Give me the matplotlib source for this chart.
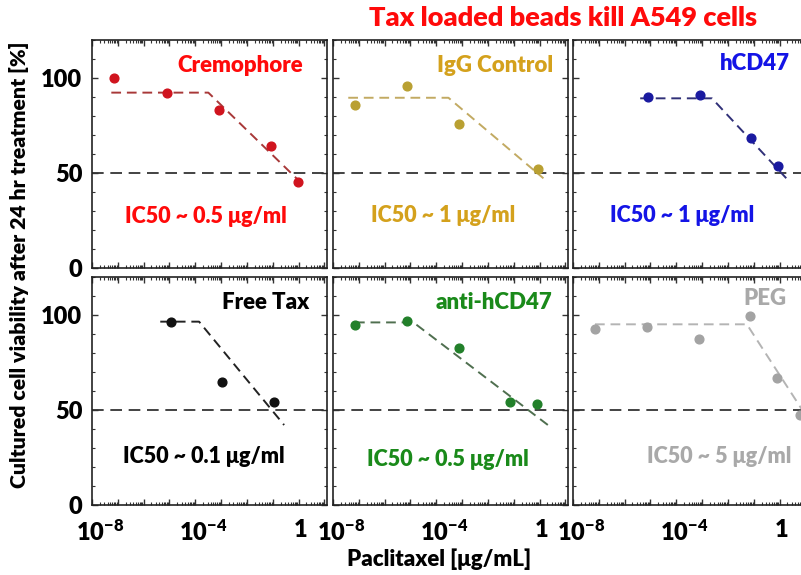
import matplotlib
matplotlib.use('Agg')
import matplotlib.pyplot as plt
import numpy as np
from matplotlib.ticker import FixedLocator, FuncFormatter, LogLocator, MultipleLocator, NullFormatter
from matplotlib.transforms import ScaledTranslation

WEIGHT = 'heavy'
plt.rcParams['font.family'] = ['Lato', 'DejaVu Sans']
plt.rcParams['font.weight'] = WEIGHT
plt.rcParams['mathtext.fontset'] = 'custom'
plt.rcParams['mathtext.rm'] = 'Lato:heavy'
plt.rcParams['mathtext.it'] = 'Lato:heavy'
plt.rcParams['mathtext.bf'] = 'Lato:heavy'

# data
names = ['Cremophore', 'IgG Control', 'hCD47', 'Free Tax', 'anti-hCD47', 'PEG']
ic50 = ['IC50 ~ 0.5 μg/ml', 'IC50 ~ 1 μg/ml', 'IC50 ~ 1 μg/ml',
        'IC50 ~ 0.1 μg/ml', 'IC50 ~ 0.5 μg/ml', 'IC50 ~ 5 μg/ml']

cremophore_x = [7.2e-8, 7.9e-6, 8.5e-4, 8.5e-2, 0.91]
cremophore_y = [99.8, 92.3, 83.2, 64.2, 45.1]
igg_x = [7.1e-8, 7.6e-6, 7.9e-4, 0.83]
igg_y = [85.8, 96.0, 75.8, 51.9]
hcd47_x = [7.9e-6, 8.3e-4, 7.9e-2, 0.83]
hcd47_y = [90.2, 91.1, 68.6, 53.8]
freetax_x = [1.1e-5, 1.1e-3, 0.11]
freetax_y = [96.5, 64.6, 54.4]
anti_x = [7.1e-8, 7.6e-6, 7.6e-4, 7.4e-2, 0.76]
anti_y = [94.7, 96.8, 82.5, 54.1, 53.2]
peg_x = [7.1e-8, 7.6e-6, 7.9e-4, 7.4e-2, 0.81, 6.3]
peg_y = [92.6, 93.8, 87.5, 99.6, 66.7, 47.4]

# fitted piecewise lines (plateau then decline)
cremophore_fit_x = [5.6e-8, 3.2e-4, 1.66]
cremophore_fit_y = [92.3, 92.3, 43.2]
igg_fit_x = [3.9e-8, 2.95e-4, 1.41]
igg_fit_y = [89.6, 89.6, 47.2]
hcd47_fit_x = [4.0e-6, 2.4e-3, 2.24]
hcd47_fit_y = [89.3, 89.3, 45.9]
freetax_fit_x = [4.4e-6, 1.4e-4, 0.275]
freetax_fit_y = [96.5, 96.5, 42.1]
anti_fit_x = [7.1e-8, 1.3e-5, 2.24]
anti_fit_y = [96.1, 96.1, 41.8]
peg_fit_x = [7.1e-8, 5.4e-2, 20.0]
peg_fit_y = [95.1, 95.1, 41.1]

xs = [cremophore_x, igg_x, hcd47_x, freetax_x, anti_x, peg_x]
ys = [cremophore_y, igg_y, hcd47_y, freetax_y, anti_y, peg_y]
fxs = [cremophore_fit_x, igg_fit_x, hcd47_fit_x, freetax_fit_x, anti_fit_x, peg_fit_x]
fys = [cremophore_fit_y, igg_fit_y, hcd47_fit_y, freetax_fit_y, anti_fit_y, peg_fit_y]

text_colors = ['#ff0a0a', '#d4a11c', '#1414e6', '#000000', '#1a8a1a', '#a9a9a9']
marker_colors = ['#d0141e', '#b9a032', '#1a1aa0', '#111111', '#22802a', '#a3a3a3']
line_colors = ['#a83838', '#c2aa62', '#303078', '#222222', '#4f6f4f', '#b4b4b4']

name_pos = [(0.90, 0.886), (0.935, 0.89), (0.923, 0.898),
            (0.925, 0.889), (0.935, 0.889), (0.909, 0.906)]
ic50_pos = [(0.485, 0.224), (0.467, 0.232), (0.464, 0.232),
            (0.475, 0.212), (0.487, 0.20), (0.62, 0.212)]

W, H = 801, 575
fig = plt.figure(figsize=(W / 100, H / 100), dpi=100)

lefts = [92, 333, 573]
tops = [40, 277]
aw, ah = 235, 228


def xfmt(v, pos):
    e = int(round(np.log10(v)))
    if e == 0:
        return '1'
    if e in (-8, -4):
        return '$10^{%d}$' % e
    return ''


axes = []
for i in range(6):
    r, c = divmod(i, 3)
    ax = fig.add_axes([lefts[c] / W, 1 - (tops[r] + ah) / H, aw / W, ah / H])
    axes.append(ax)
    ax.set_xscale('log')
    ax.set_xlim(1e-8, 10 ** 1.1)
    ax.set_ylim(0, 120)

    ax.axhline(50, color='#222222', lw=1.2, ls=(0, (7, 4)), zorder=1)
    ax.plot(fxs[i], fys[i], color=line_colors[i], lw=1.4, ls=(0, (5, 3)), zorder=2)
    ax.plot(xs[i], ys[i], 'o', color=marker_colors[i], ms=6.3, zorder=3)

    ax.text(name_pos[i][0], name_pos[i][1], names[i], transform=ax.transAxes,
            ha='right', va='center', color=text_colors[i], fontsize=16, fontweight=WEIGHT)
    ax.text(ic50_pos[i][0], ic50_pos[i][1], ic50[i], transform=ax.transAxes,
            ha='center', va='center', color=text_colors[i], fontsize=15.5, fontweight=WEIGHT)

    ax.xaxis.set_major_locator(FixedLocator([10.0 ** k for k in range(-8, 2)]))
    ax.xaxis.set_minor_locator(LogLocator(base=10, subs=np.arange(2, 10), numticks=20))
    ax.xaxis.set_minor_formatter(NullFormatter())
    ax.xaxis.set_major_formatter(FuncFormatter(xfmt))
    ax.yaxis.set_major_locator(FixedLocator([0, 50, 100]))
    ax.yaxis.set_minor_locator(MultipleLocator(10))

    ax.tick_params(which='both', direction='in', top=True, right=True, color='#333333')
    ax.tick_params(which='major', length=4, width=1)
    ax.tick_params(which='minor', length=2.5, width=0.8)
    ax.tick_params(axis='x', labelsize=17, pad=10)
    ax.tick_params(axis='y', labelsize=17, pad=7)
    if r == 0:
        ax.tick_params(axis='x', labelbottom=False)
    if c > 0:
        ax.tick_params(axis='y', labelleft=False)
    for s in ax.spines.values():
        s.set_linewidth(1.2)
        s.set_color('#222222')

fig.text(563 / W, 1 - 18 / H, 'Tax loaded beads kill A549 cells', color='#ff0a0a',
         fontsize=19.5, fontweight=WEIGHT, ha='center', va='center')
fig.text(439 / W, 1 - 559 / H, 'Paclitaxel [μg/mL]', fontsize=16,
         fontweight=WEIGHT, ha='center', va='center')
fig.text(19 / W, 1 - 265 / H, 'Cultured cell viability after 24 hr treatment [%]',
         fontsize=15.3, fontweight=WEIGHT, rotation=90, ha='center', va='center')

# the power-of-ten labels sit a little right of their ticks in the original
fig.canvas.draw()
for ax in axes:
    for tick in ax.xaxis.get_major_ticks():
        lab = tick.label1
        dx = 2 if lab.get_text() == '1' else 8
        lab.set_transform(lab.get_transform() + ScaledTranslation(dx / 100, 0, fig.dpi_scale_trans))

fig.savefig('out.png', dpi=100)
